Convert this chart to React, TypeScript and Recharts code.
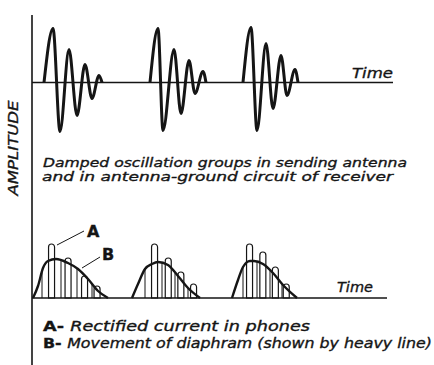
import React from 'react';
import { ComposedChart, Line, Bar, XAxis, YAxis, ReferenceLine } from 'recharts';

// Damped oscillation groups (time, amplitude)
const waveGroup1: [number, number][] = [[12, 0], [21, 54], [28, -49], [37, 33], [45, -33], [53, 18], [60, -16], [67, 7], [70, 0]];
const waveGroup2: [number, number][] = [[118, 0], [126, 54], [131, -48], [142, 33], [149, -31], [157, 22], [163, -11], [171, 11], [174, 0]];
const waveGroup3: [number, number][] = [[211, 0], [219, 55], [225, -48], [234, 39], [241, -26], [249, 27], [255, -13], [263, 13], [266, 0]];

// B - movement of diaphragm (heavy envelope)
const envGroup1: [number, number][] = [[1, 0], [6, 12], [11, 30], [16, 37], [24, 39], [36, 35], [46, 29], [56, 19], [66, 7], [76, 0]];
const envGroup2: [number, number][] = [[100, 0], [106, 14], [113, 29], [120, 34], [126, 36], [136, 33], [146, 22], [156, 10], [168, 0]];
const envGroup3: [number, number][] = [[200, 0], [206, 18], [211, 31], [218, 37], [222, 37], [231, 34], [241, 25], [251, 13], [265, 0]];

// A - rectified current pulses
const majorPulses: [number, number][] = [
  [20, 54], [36.5, 40], [53, 22], [65.5, 12],
  [123, 54], [136.7, 40], [149.3, 26], [162, 14],
  [218, 54], [231.3, 46], [243.8, 31], [254.7, 14],
];
const minorPulses: [number, number][] = [
  [10, 28], [29, 37], [45, 29], [60, 14],
  [113, 29], [130, 35], [143, 26], [156, 10],
  [211, 31], [225, 36], [238, 28], [250, 15],
];

const topTimeLabel = 'Time';
const bottomTimeLabel = 'Time';
const yLabel = 'AMPLITUDE';
const captionTop1 = 'Damped oscillation groups in sending antenna';
const captionTop2 = 'and in antenna-ground circuit of receiver';
const legendA = 'Rectified current in phones';
const legendB = 'Movement of diaphram (shown by heavy line)';

const toRows = (g: [number, number][]) => g.map(([t, v]) => ({ t, v }));

const chartData = majorPulses.map(([t, v]) => ({ t, major: v }));

const INK = '#151515';
const FONT = '"DejaVu Sans", "Liberation Sans", sans-serif';

export default function App() {
  const waves = [waveGroup1, waveGroup2, waveGroup3];
  const envs = [envGroup1, envGroup2, envGroup3];
  return (
    <div style={{ position: 'absolute', left: 0, top: 0, width: 434, height: 365, background: '#fff', overflow: 'hidden' }}>
      <ComposedChart
        width={434}
        height={365}
        data={chartData}
        margin={{ top: 15, right: 41, bottom: 0, left: 32 }}
      >
        <XAxis xAxisId="main" dataKey="t" type="number" domain={[0, 361]} allowDataOverflow hide />
        <XAxis xAxisId="bars" dataKey="t" type="number" domain={[0, 361]} allowDataOverflow hide />
        <YAxis yAxisId="top" type="number" domain={[-282.5, 67.5]} allowDataOverflow hide />
        <YAxis yAxisId="bottom" type="number" domain={[-67, 283]} allowDataOverflow hide />
        {/* amplitude axis */}
        <ReferenceLine xAxisId="main" yAxisId="bottom" x={0} stroke={INK} strokeWidth={1.6} />
        {/* time axes */}
        <ReferenceLine xAxisId="main" yAxisId="top" y={0} stroke={INK} strokeWidth={1.5} />
        <ReferenceLine
          xAxisId="main"
          yAxisId="bottom"
          segment={[{ x: 0, y: 0 }, { x: 355, y: 0 }]}
          stroke={INK}
          strokeWidth={1.5}
        />
        {/* thin rectified current lines under the envelope */}
        {minorPulses.map(([t, v], i) => (
          <ReferenceLine
            key={'m' + i}
            xAxisId="main"
            yAxisId="bottom"
            segment={[{ x: t, y: 0 }, { x: t, y: v }]}
            stroke={INK}
            strokeWidth={1}
          />
        ))}
        {/* leader lines for A and B */}
        <ReferenceLine
          xAxisId="main"
          yAxisId="bottom"
          segment={[{ x: 52, y: 67 }, { x: 25, y: 53 }]}
          stroke={INK}
          strokeWidth={1}
        />
        <ReferenceLine
          xAxisId="main"
          yAxisId="bottom"
          segment={[{ x: 68, y: 41 }, { x: 50, y: 30 }]}
          stroke={INK}
          strokeWidth={1}
        />
        <Bar
          xAxisId="bars"
          yAxisId="bottom"
          dataKey="major"
          barSize={6}
          radius={[3, 3, 0, 0]}
          fill="none"
          stroke={INK}
          strokeWidth={1.2}
          isAnimationActive={false}
        />
        {waves.map((g, i) => (
          <Line
            key={'w' + i}
            xAxisId="main"
            yAxisId="top"
            data={toRows(g)}
            dataKey="v"
            type="monotone"
            stroke={INK}
            strokeWidth={3}
            dot={false}
            isAnimationActive={false}
          />
        ))}
        {envs.map((g, i) => (
          <Line
            key={'e' + i}
            xAxisId="main"
            yAxisId="bottom"
            data={toRows(g)}
            dataKey="v"
            type="monotone"
            stroke={INK}
            strokeWidth={2.4}
            dot={false}
            isAnimationActive={false}
          />
        ))}
      </ComposedChart>
      <svg
        width={434}
        height={365}
        style={{ position: 'absolute', left: 0, top: 0, pointerEvents: 'none' }}
        fontFamily={FONT}
        fill={INK}
        stroke={INK}
        strokeWidth={0.35}
      >
        <text x={352} y={78} fontSize={14} fontStyle="italic" textLength={41} lengthAdjust="spacingAndGlyphs">{topTimeLabel}</text>
        <text x={43} y={167} fontSize={13} fontStyle="italic" textLength={364} lengthAdjust="spacingAndGlyphs">{captionTop1}</text>
        <text x={42} y={181} fontSize={13} fontStyle="italic" textLength={351} lengthAdjust="spacingAndGlyphs">{captionTop2}</text>
        <text
          x={18}
          y={148}
          fontSize={14}
          fontStyle="italic"
          textAnchor="middle"
          transform="rotate(-90 18 148)"
          textLength={95}
          lengthAdjust="spacingAndGlyphs"
        >{yLabel}</text>
        <text x={87} y={237} fontSize={16} fontWeight={600}>A</text>
        <text x={102} y={260} fontSize={16} fontWeight={600}>B</text>
        <text x={337} y={292} fontSize={14} fontStyle="italic" textLength={36} lengthAdjust="spacingAndGlyphs">{bottomTimeLabel}</text>
        <text x={43} y={331} fontSize={14} textLength={267} lengthAdjust="spacingAndGlyphs">
          <tspan fontWeight={600}>A- </tspan>
          <tspan fontStyle="italic">{legendA}</tspan>
        </text>
        <text x={43} y={348} fontSize={14} textLength={389} lengthAdjust="spacingAndGlyphs">
          <tspan fontWeight={600}>B- </tspan>
          <tspan fontStyle="italic">{legendB}</tspan>
        </text>
      </svg>
    </div>
  );
}
